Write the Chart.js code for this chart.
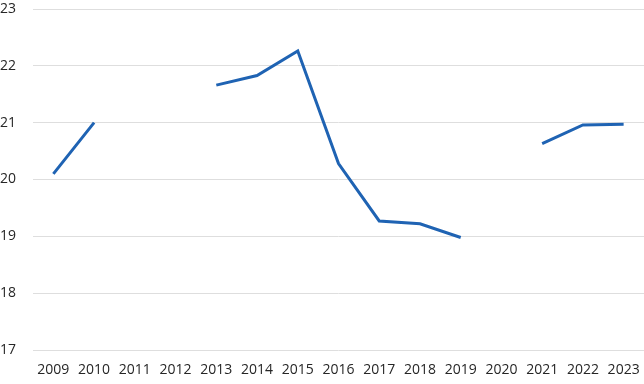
<!DOCTYPE html>
<html>
<head>
<meta charset="utf-8">
<script src="https://cdn.jsdelivr.net/npm/chart.js@4/dist/chart.umd.min.js"></script>
<style>
  html, body { margin: 0; padding: 0; background: #ffffff; }
  #wrap { width: 644px; height: 384px; position: relative; }
</style>
</head>
<body>
<div id="wrap"><canvas id="c"></canvas></div>
<script>
const years = ["2009","2010","2011","2012","2013","2014","2015","2016","2017","2018","2019","2020","2021","2022","2023"];
const values = [20.10, 21.00, null, null, 21.66, 21.83, 22.26, 20.28, 19.27, 19.22, 18.98, null, 20.63, 20.96, 20.97];
const yMin = 17;
const yMax = 23;

const chart = new Chart(document.getElementById('c'), {
  type: 'line',
  data: {
    labels: years,
    datasets: [{
      data: values,
      borderColor: '#1f63b3',
      borderWidth: 3,
      pointRadius: 0,
      pointHoverRadius: 0,
      spanGaps: false,
      tension: 0,
      fill: false
    }]
  },
  options: {
    responsive: true,
    maintainAspectRatio: false,
    animation: false,
    layout: { padding: { top: 9, right: 0, bottom: 0, left: 0 } },
    plugins: { legend: { display: false }, tooltip: { enabled: false } },
    scales: {
      x: {
        offset: true,
        grid: { display: false, drawTicks: false },
        border: { display: false },
        ticks: { color: '#262626', font: { family: 'Open Sans', size: 14 }, padding: 12, maxRotation: 0, autoSkip: false },
        afterFit: (s) => { s.height = 34; s.paddingRight = 0; s.paddingLeft = 0; }
      },
      y: {
        min: yMin,
        max: yMax,
        grid: { color: '#dedede', lineWidth: 1, drawTicks: false },
        border: { display: false },
        ticks: { stepSize: 1, color: '#262626', font: { family: 'Open Sans', size: 14 }, padding: 16, crossAlign: 'far' },
        afterFit: (s) => { s.width = 33; s.paddingTop = 0; s.paddingBottom = 0; }
      }
    }
  }
});
</script>
</body>
</html>
